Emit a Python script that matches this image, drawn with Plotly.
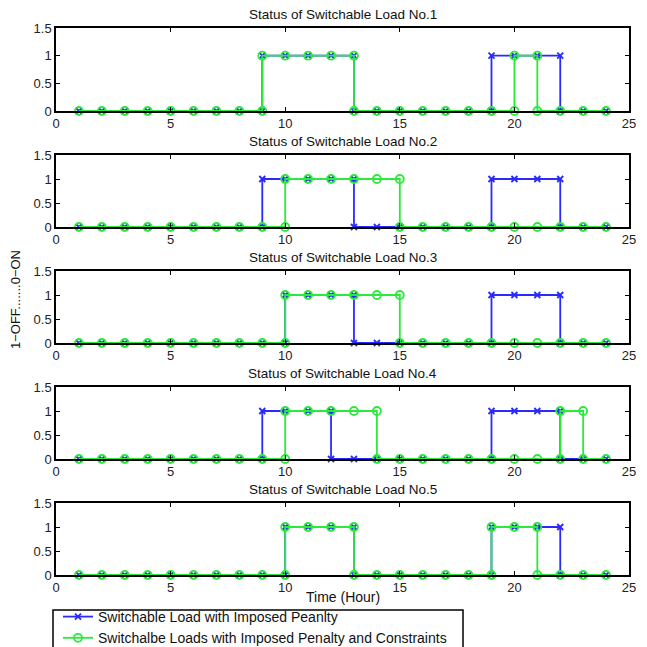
import plotly.graph_objects as go

W, H = 647, 664
OFF = 8  # page body margin in the browser
hours = list(range(1, 25))

titles = ["Status of Switchable Load No.1", "Status of Switchable Load No.2",
          "Status of Switchable Load No.3", "Status of Switchable Load No.4",
          "Status of Switchable Load No.5"]

# ON intervals (start hour, end hour) for each load
penalty_on = [
    [(9, 13), (19, 22)],
    [(9, 13), (19, 22)],
    [(10, 13), (19, 22)],
    [(9, 12), (19, 22)],
    [(10, 13), (19, 22)],
]
constr_on = [
    [(9, 13), (20, 21)],
    [(10, 15)],
    [(10, 15)],
    [(10, 14), (22, 23)],
    [(10, 13), (19, 21)],
]

series_names = ["Switchable Load with Imposed Peanlty",
                "Switchalbe Loads with Imposed Penalty and Constraints"]
xticks = [0, 5, 10, 15, 20, 25]
yticks = [0, 0.5, 1, 1.5]


def stairs(intervals):
    xs, ys = [], []
    starts = {a for a, b in intervals}
    ends = {b for a, b in intervals}
    for h in hours:
        inside = any(a < h < b for a, b in intervals)
        if h in starts and h in ends:
            xs += [h, h]; ys += [1, 1]
        elif h in starts:
            xs += [h, h]; ys += [0, 1]
        elif h in ends:
            xs += [h, h]; ys += [1, 0]
        elif inside:
            xs.append(h); ys.append(1)
        else:
            xs.append(h); ys.append(0)
    return xs, ys


def px_x(p):
    return (p - OFF) / W


def px_y(p):
    return 1 - (p - OFF) / H


# pixel boxes (top, bottom) of each panel in the viewport
panel_px = [(28, 111), (155, 227), (271, 343), (387, 459), (503, 575)]
x_left, x_right = 56, 629

fig = go.Figure()
FONT = "Liberation Sans, Arial, sans-serif"
BLUE = "#2a2aff"
GREEN = "#2bea3b"

for i in range(5):
    ax = "" if i == 0 else str(i + 1)
    bx, by = stairs(penalty_on[i])
    gx, gy = stairs(constr_on[i])
    fig.add_trace(go.Scatter(x=bx, y=by, mode="lines+markers", name=series_names[0],
                             xaxis="x" + ax, yaxis="y" + ax, showlegend=(i == 0),
                             cliponaxis=False,
                             line=dict(color=BLUE, width=1.8),
                             marker=dict(symbol="x-thin", size=6, line=dict(color=BLUE, width=1.8), color=BLUE)))
    fig.add_trace(go.Scatter(x=gx, y=gy, mode="lines+markers", name=series_names[1],
                             xaxis="x" + ax, yaxis="y" + ax, showlegend=(i == 0),
                             cliponaxis=False,
                             line=dict(color=GREEN, width=1.8),
                             marker=dict(symbol="circle-open", size=8, line=dict(color=GREEN, width=1.8), color=GREEN)))
    top, bot = panel_px[i]
    axis_common = dict(showline=True, linecolor="black", linewidth=1.5, mirror="ticks",
                       ticks="inside", ticklen=4, tickcolor="black", tickwidth=1,
                       showgrid=False, zeroline=False, automargin=False,
                       tickfont=dict(family=FONT, size=13, color="#222"))
    fig.update_layout(**{
        "xaxis" + ax: dict(domain=[px_x(x_left), px_x(x_right)], range=[0, 25], tickvals=xticks,
                           anchor="y" + ax, **axis_common),
        "yaxis" + ax: dict(domain=[px_y(bot), px_y(top)], range=[0, 1.5], tickvals=yticks,
                           ticktext=["0", "0.5", "1", "1.5"],
                           anchor="x" + ax, **axis_common),
    })
    fig.add_annotation(text=titles[i], x=px_x((x_left + x_right) / 2), y=px_y(top - 4),
                       xref="paper", yref="paper", showarrow=False, yanchor="bottom",
                       xanchor="center",
                       font=dict(family=FONT, size=13.5, color="#111"))

fig.add_annotation(text="Time (Hour)", x=px_x((x_left + x_right) / 2), y=px_y(597),
                   xref="paper", yref="paper", showarrow=False,
                   xanchor="center", yanchor="middle",
                   font=dict(family=FONT, size=14, color="#111"))
fig.add_annotation(text="1\u2212OFF.......0\u2212ON", x=px_x(16), y=px_y(300),
                   xref="paper", yref="paper", showarrow=False, textangle=-90,
                   xanchor="center", yanchor="middle",
                   font=dict(family=FONT, size=13, color="#111"))

# legend frame (open at the bottom edge of the picture, as in the reference)
fig.add_shape(type="rect", xref="paper", yref="paper",
              x0=px_x(53), x1=px_x(463), y0=px_y(660), y1=px_y(610),
              line=dict(color="black", width=1.5), fillcolor="rgba(0,0,0,0)", layer="above")

fig.update_layout(width=W, height=H, margin=dict(l=0, r=0, t=0, b=0, autoexpand=False),
                  paper_bgcolor="white", plot_bgcolor="white",
                  legend=dict(x=px_x(58), y=px_y(601), xanchor="left", yanchor="top",
                              xref="container", yref="container",
                              borderwidth=0, bgcolor="rgba(0,0,0,0)",
                              font=dict(family=FONT, size=14, color="#111"),
                              tracegroupgap=0, itemsizing="trace"))

fig.write_html("out.html")
